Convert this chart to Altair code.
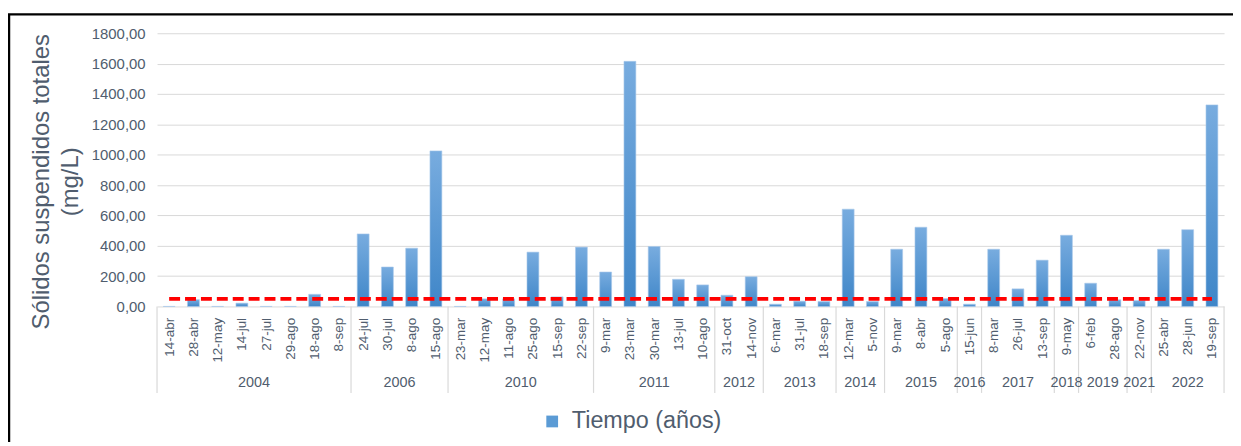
import json
import altair as alt
import pandas as pd

# ---- data ----
years = (["2004"] * 8 + ["2006"] * 4 + ["2010"] * 6 + ["2011"] * 5 + ["2012"] * 2 +
         ["2013"] * 3 + ["2014"] * 2 + ["2015"] * 3 + ["2016"] * 1 + ["2017"] * 3 +
         ["2018"] * 1 + ["2019"] * 2 + ["2021"] * 1 + ["2022"] * 3)
dates = ["14-abr", "28-abr", "12-may", "14-jul", "27-jul", "29-ago", "18-ago", "8-sep",
         "24-jul", "30-jul", "8-ago", "15-ago",
         "23-mar", "12-may", "11-ago", "25-ago", "15-sep", "22-sep",
         "9-mar", "23-mar", "30-mar", "13-jul", "10-ago",
         "31-oct", "14-nov",
         "6-mar", "31-jul", "18-sep",
         "12-mar", "5-nov",
         "9-mar", "8-abr", "5-ago",
         "15-jun",
         "8-mar", "26-jul", "13-sep",
         "9-may",
         "6-feb", "28-ago",
         "22-nov",
         "25-abr", "28-jun", "19-sep"]
sst = [0, 45, 0, 22, 0, 0, 80, 0,
       478, 260, 384, 1025,
       0, 50, 50, 358, 63, 391,
       227, 1615, 395, 179, 142,
       74, 196,
       15, 35, 33,
       641, 33,
       377, 522, 52,
       15,
       377, 116, 305,
       469,
       153, 44,
       39,
       377, 506, 1328]
limit_value = 50
series_name = "Tiempo (años)"

# ---- tables ----
df = pd.DataFrame({"idx": list(range(len(dates))), "fecha": dates, "anio": years,
                   "valor": sst})
df["lim"] = limit_value
df["serie"] = series_name
df["x1"] = df["idx"] - 0.245
df["x2"] = df["idx"] + 0.245

grp = df.groupby("anio", sort=False)["idx"].agg(["min", "max"]).reset_index()
grp["center"] = (grp["min"] + grp["max"]) / 2
bounds = pd.DataFrame({"b": [grp["min"].iloc[0] - 0.5] + list(grp["max"] + 0.5)})

W, H = 1074, 275
TXT = "#505d6e"
FONT = "Liberation Sans"
N = len(dates)

xscale = alt.Scale(domain=[-0.5, N - 0.5], nice=False, zero=False, padding=0)
yscale = alt.Scale(domain=[0, 1800], nice=False, padding=0)
label_expr = json.dumps(dates) + "[datum.value]"

xaxis = alt.Axis(values=list(range(N)), labelExpr=label_expr, labelAngle=270,
                 ticks=False, domain=False, grid=False, title=None,
                 labelFontSize=13.5, labelColor=TXT, labelFont=FONT,
                 labelPadding=11, labelFlush=False, labelOverlap=False, labelBound=False)
yaxis = alt.Axis(values=list(range(0, 1801, 200)),
                 labelExpr="replace(format(datum.value, '.2f'), '.', ',')",
                 ticks=False, domain=False, gridColor="#d9d9d9", gridWidth=1,
                 labelOverlap=False, labelFlush=False, labelBound=False,
                 labelFontSize=15, labelColor=TXT, labelFont=FONT, labelPadding=12,
                 title=["Sólidos suspendidos totales", "(mg/L)"],
                 titleFontSize=24, titleFontWeight="normal", titleColor=TXT,
                 titleFont=FONT, titlePadding=9, titleY=149, titleLineHeight=29)

base = alt.Chart(df)

bars = base.mark_bar(
    fill=alt.Gradient(gradient="linear",
                      stops=[alt.GradientStop(color="#78acdf", offset=0),
                             alt.GradientStop(color="#3f86c8", offset=1)],
                      x1=0, x2=0, y1=0, y2=1),
    stroke="#a9c9ea", strokeWidth=0.6, orient="vertical"
).encode(
    x=alt.X("x1:Q", scale=xscale, axis=xaxis),
    x2="x2:Q",
    y=alt.Y("valor:Q", scale=yscale, axis=yaxis),
    y2=alt.datum(0),
)

limit = base.mark_line(color="#ff0000", strokeWidth=4, strokeDash=[11, 5]).encode(
    x=alt.X("idx:Q", scale=xscale, axis=xaxis),
    y=alt.Y("lim:Q", scale=yscale, axis=yaxis),
)

legend_layer = base.mark_square(opacity=0).encode(
    x=alt.X("idx:Q", scale=xscale, axis=xaxis),
    y=alt.Y("valor:Q", scale=yscale, axis=yaxis),
    color=alt.Color("serie:N", scale=alt.Scale(range=["#5b9bd5"]),
                    legend=alt.Legend(title=None, orient="none", legendX=386, legendY=379,
                                      symbolType="square", symbolSize=140, symbolOpacity=1,
                                      symbolStrokeWidth=0, labelFontSize=23.5, labelColor=TXT,
                                      labelFont=FONT, labelOffset=8, padding=0)),
)

seps = alt.Chart(bounds).mark_rule(color="#d9d9d9", strokeWidth=1.2).encode(
    x=alt.X("b:Q", scale=xscale, axis=xaxis),
    y=alt.value(H),
    y2=alt.value(H + 87),
)

year_text = alt.Chart(grp).mark_text(fontSize=14.5, color=TXT, font=FONT,
                                     baseline="middle").encode(
    x=alt.X("center:Q", scale=xscale, axis=xaxis),
    y=alt.value(H + 77),
    text="anio:N",
)

frame = alt.Chart(pd.DataFrame({"k": [0]})).mark_rect(
    fill="transparent", stroke="black", strokeWidth=2.5
).encode(
    x=alt.value(-149), x2=alt.value(W + 40), y=alt.value(-19), y2=alt.value(H + 160)
)

chart = alt.layer(seps, bars, limit, legend_layer, year_text, frame).properties(
    width=W, height=H,
    autosize=alt.AutoSizeParams(type="none"),
    padding={"left": 150, "top": 24, "right": 9, "bottom": 135},
).configure_view(strokeWidth=0).configure_axis(labelOverlap=False)

chart.save("out.html", embed_options={"renderer": "svg", "actions": False})
